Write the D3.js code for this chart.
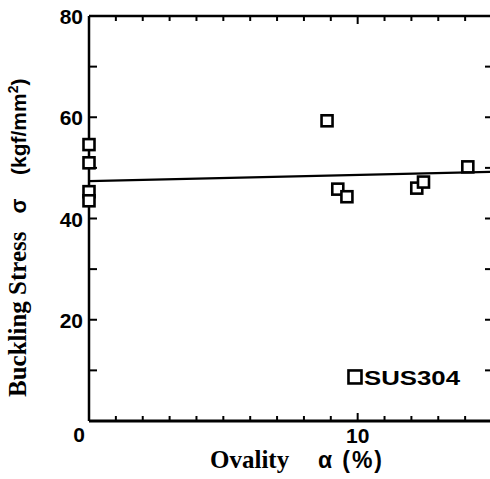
<!DOCTYPE html>
<html>
<head>
<script src="https://d3js.org/d3.v7.min.js"></script>
<style>
  body { margin: 0; background: #fff; }
  .tick-label { font-family: "Liberation Sans", Arial, sans-serif; font-weight: bold; font-size: 21px; fill: #000; }
  .serif { font-family: "Liberation Serif", "Times New Roman", serif; font-weight: bold; }
  .sans { font-family: "Liberation Sans", Arial, sans-serif; font-weight: bold; }
  .pt { fill: #fff; stroke: #000; stroke-width: 2.6; }
</style>
</head>
<body>
<script>
// ovality (%) and buckling stress (kgf/mm2)
var ovality = [0, 0, 0, 0, 8.86, 9.26, 9.6, 12.2, 12.45, 14.1];
var stress  = [54.6, 51.0, 45.3, 43.5, 59.3, 45.8, 44.3, 46.0, 47.2, 50.2];
// fitted line
var fitX = [0, 15];
var fitY = [47.4, 49.2];
var yLabelTicks = [0, 20, 40, 60, 80];
var xLabelTicks = [10];
var seriesName = "SUS304";

var W = 490, H = 479,
    margin = {top: 16, left: 89},
    width = 403, height = 405;

var x = d3.scaleLinear().domain([0, 15]).range([0, width]);
var y = d3.scaleLinear().domain([0, 80]).range([height, 0]);

var svg = d3.select("body").append("svg")
    .attr("width", W).attr("height", H);
var g = svg.append("g")
    .attr("transform", "translate(" + margin.left + "," + margin.top + ")");

// frame
g.append("line").attr("x1", 0).attr("x2", 0).attr("y1", y(80)).attr("y2", y(0))
    .attr("stroke", "#000").attr("stroke-width", 2.5);
g.append("line").attr("x1", 0).attr("x2", x(15)).attr("y1", y(0)).attr("y2", y(0))
    .attr("stroke", "#000").attr("stroke-width", 3);
g.append("line").attr("x1", 0).attr("x2", x(15)).attr("y1", y(80)).attr("y2", y(80))
    .attr("stroke", "#000").attr("stroke-width", 2.5);

// ticks
var xt = d3.range(1, 15);
g.selectAll(".xb").data(xt).enter().append("line")
    .attr("x1", d => x(d)).attr("x2", d => x(d))
    .attr("y1", y(0)).attr("y2", d => y(0) - (d % 10 === 0 ? 8 : 5))
    .attr("stroke", "#000").attr("stroke-width", 2);
g.selectAll(".xt").data(xt).enter().append("line")
    .attr("x1", d => x(d)).attr("x2", d => x(d))
    .attr("y1", y(80)).attr("y2", d => y(80) + (d % 10 === 0 ? 8 : 5))
    .attr("stroke", "#000").attr("stroke-width", 2);
var yt = d3.range(10, 80, 10);
g.selectAll(".yl").data(yt).enter().append("line")
    .attr("x1", 0).attr("x2", 8)
    .attr("y1", d => y(d)).attr("y2", d => y(d))
    .attr("stroke", "#000").attr("stroke-width", 2);
g.selectAll(".yr").data(yt).enter().append("line")
    .attr("x1", x(15) - 7).attr("x2", x(15))
    .attr("y1", d => y(d)).attr("y2", d => y(d))
    .attr("stroke", "#000").attr("stroke-width", 2);

// tick labels
g.selectAll(".ylab").data(yLabelTicks.filter(d => d > 0)).enter().append("text")
    .attr("class", "tick-label")
    .attr("x", -6).attr("y", d => y(d) + 8)
    .attr("text-anchor", "end")
    .text(d => d);
g.append("text").attr("class", "tick-label")
    .attr("x", x(0) - 4).attr("y", y(0) + 21)
    .attr("text-anchor", "end").text(yLabelTicks[0]);
g.selectAll(".xlab").data(xLabelTicks).enter().append("text")
    .attr("class", "tick-label")
    .attr("x", d => x(d)).attr("y", y(0) + 22)
    .attr("text-anchor", "middle")
    .text(d => d);

// fitted line
var line = d3.line().x(d => x(d[0])).y(d => y(d[1]));
g.append("path")
    .datum(d3.zip(fitX, fitY))
    .attr("d", line)
    .attr("fill", "none").attr("stroke", "#000").attr("stroke-width", 2.2);

// points
var s = 11;
g.selectAll(".pt").data(d3.zip(ovality, stress)).enter().append("rect")
    .attr("class", "pt")
    .attr("x", d => x(d[0]) - s / 2).attr("y", d => y(d[1]) - s / 2)
    .attr("width", s).attr("height", s);

// legend
g.append("rect").attr("class", "pt")
    .attr("x", x(9.9) - s / 2 - 1).attr("y", y(8.7) - s / 2 - 1)
    .attr("width", s + 2).attr("height", s + 2);
g.append("text")
    .attr("class", "sans")
    .attr("x", x(9.9) + 9).attr("y", y(8.7) + 8)
    .attr("font-size", 21).attr("font-weight", "normal")
    .attr("textLength", 96).attr("lengthAdjust", "spacingAndGlyphs")
    .text(seriesName);

// axis titles
svg.append("text").attr("class", "serif")
    .attr("x", 210).attr("y", 468).attr("font-size", 25)
    .text("Ovality");
svg.append("text").attr("class", "sans")
    .attr("x", 318).attr("y", 468).attr("font-size", 23)
    .attr("textLength", 64).attr("lengthAdjust", "spacing")
    .text("α (%)");

svg.append("text").attr("class", "serif")
    .attr("transform", "translate(26,397) rotate(-90)")
    .attr("font-size", 25)
    .text("Buckling Stress");
svg.append("text").attr("class", "sans")
    .attr("transform", "translate(26,206) rotate(-90)")
    .attr("font-size", 22).attr("text-anchor", "middle")
    .text("σ");
var t = svg.append("text").attr("class", "sans")
    .attr("transform", "translate(26,175) rotate(-90)")
    .attr("font-size", 21);
t.append("tspan").text("(kgf/mm");
t.append("tspan").attr("font-size", 14).attr("dy", -8).text("2");
t.append("tspan").attr("dy", 8).text(")");
</script>
</body>
</html>
